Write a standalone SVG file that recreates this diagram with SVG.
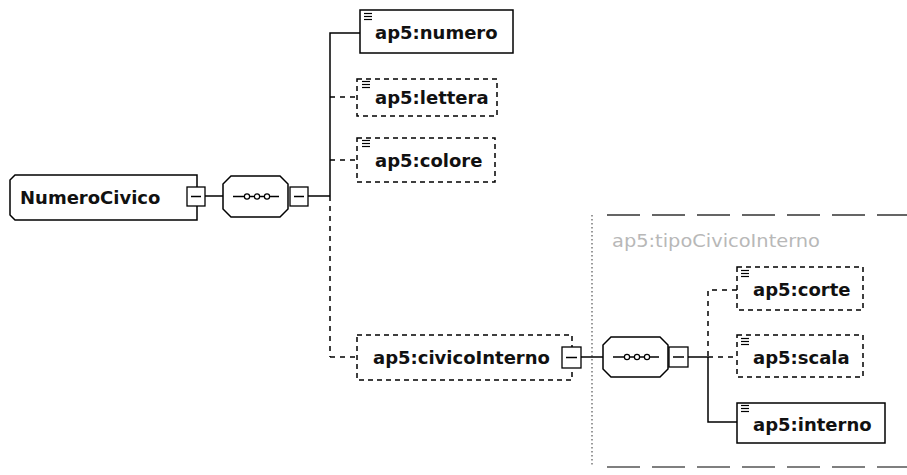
<svg xmlns="http://www.w3.org/2000/svg" width="907" height="475" viewBox="0 0 907 475">
<defs>
<style>
.bx{fill:#fff;stroke:#000;stroke-width:1.5}
.opt{fill:#fff;stroke:#000;stroke-width:1.5;stroke-dasharray:5,4}
.lbl{font-family:"DejaVu Sans",Verdana,sans-serif;font-weight:bold;font-size:18px;fill:#111}
.ln{fill:none;stroke:#000;stroke-width:1.5}
.dl{fill:none;stroke:#000;stroke-width:1.5;stroke-dasharray:5,5}
.ic{stroke:#000;stroke-width:1.2}
.mb{fill:#fff;stroke:#000;stroke-width:1.3}
.dot{fill:#fff;stroke:#000;stroke-width:1.2}
</style>
<g id="icon"><line class="ic" x1="0" y1="0.5" x2="8" y2="0.5"/><line class="ic" x1="0" y1="3.5" x2="8" y2="3.5"/><line class="ic" x1="0" y1="6.5" x2="8" y2="6.5"/></g>
</defs>
<rect width="907" height="475" fill="#fff"/>

<g id="typebox">
<line x1="592" y1="215" x2="592" y2="467" stroke="#555" stroke-width="1.2" stroke-dasharray="1.5,2.5"/>
<line x1="607" y1="215" x2="907" y2="215" stroke="#333" stroke-width="1.5" stroke-dasharray="33,12"/>
<line x1="607" y1="467" x2="907" y2="467" stroke="#555" stroke-width="1.5" stroke-dasharray="33,12"/>
<text x="612" y="247" font-family="DejaVu Sans,Verdana,sans-serif" font-size="18" fill="#b8b8b8" textLength="208" lengthAdjust="spacingAndGlyphs">ap5:tipoCivicoInterno</text>
</g>

<g id="connectors">
<line class="ln" x1="205" y1="196" x2="223" y2="196"/>
<line class="ln" x1="308" y1="196" x2="330" y2="196"/>
<polyline class="ln" points="360,33 330,33 330,196"/>
<line class="dl" x1="330" y1="196" x2="330" y2="357"/>
<line class="dl" x1="330" y1="97" x2="357" y2="97"/>
<line class="dl" x1="330" y1="160" x2="357" y2="160"/>
<line class="dl" x1="330" y1="357" x2="357" y2="357"/>
<line class="ln" x1="581" y1="357" x2="603" y2="357"/>
<line class="ln" x1="688" y1="357" x2="708" y2="357"/>
<line class="dl" x1="708" y1="357" x2="737" y2="357"/>
<polyline class="dl" points="737,290 708,290 708,357"/>
<polyline class="ln" points="708,357 708,422 737,422"/>
</g>

<g id="NumeroCivico">
<path class="bx" d="M15,175 H197 V220 H15 L10,215 V180 Z"/>
<text class="lbl" x="20" y="204" fill="#222">NumeroCivico</text>
<rect class="mb" x="187" y="187" width="18" height="19"/>
<line class="ln" x1="191" y1="196.5" x2="201" y2="196.5"/>
</g>

<g id="seq1">
<path class="bx" d="M231,176 H280 L288,184 V209 L280,217 H231 L223,209 V184 Z"/>
<line class="ln" x1="233" y1="196.5" x2="279" y2="196.5"/>
<circle class="dot" cx="247" cy="196.5" r="2.6"/>
<circle class="dot" cx="257" cy="196.5" r="2.6"/>
<circle class="dot" cx="267" cy="196.5" r="2.6"/>
<rect class="mb" x="290" y="187" width="18" height="19"/>
<line class="ln" x1="294" y1="196.5" x2="304" y2="196.5"/>
</g>

<g id="numero">
<rect class="bx" x="360" y="10" width="153" height="43"/>
<use href="#icon" x="364" y="13"/>
<text class="lbl" x="375" y="39">ap5:numero</text>
</g>

<g id="lettera">
<rect class="opt" x="357" y="79" width="140" height="37"/>
<use href="#icon" x="362" y="81"/>
<text class="lbl" x="375" y="104">ap5:lettera</text>
</g>

<g id="colore">
<rect class="opt" x="357" y="138" width="138" height="44"/>
<use href="#icon" x="362" y="140"/>
<text class="lbl" x="375" y="167">ap5:colore</text>
</g>

<g id="civicoInterno">
<rect class="opt" x="357" y="335" width="215" height="45"/>
<text class="lbl" x="373" y="364">ap5:civicoInterno</text>
<rect class="mb" x="562" y="347" width="19" height="21"/>
<line class="ln" x1="566" y1="357.5" x2="577" y2="357.5"/>
</g>

<g id="seq2">
<path class="bx" d="M611,337 H660 L668,345 V369 L660,377 H611 L603,369 V345 Z"/>
<line class="ln" x1="613" y1="357" x2="659" y2="357"/>
<circle class="dot" cx="627" cy="357" r="2.6"/>
<circle class="dot" cx="637" cy="357" r="2.6"/>
<circle class="dot" cx="647" cy="357" r="2.6"/>
<rect class="mb" x="669" y="347" width="19" height="20"/>
<line class="ln" x1="673" y1="357" x2="684" y2="357"/>
</g>

<g id="corte">
<rect class="opt" x="737" y="267" width="126" height="43"/>
<use href="#icon" x="741" y="270"/>
<text class="lbl" x="753" y="296">ap5:corte</text>
</g>

<g id="scala">
<rect class="opt" x="737" y="335" width="126" height="42"/>
<use href="#icon" x="741" y="338"/>
<text class="lbl" x="753" y="364">ap5:scala</text>
</g>

<g id="interno">
<rect class="bx" x="737" y="403" width="148" height="40"/>
<use href="#icon" x="741" y="405"/>
<text class="lbl" x="753" y="431">ap5:interno</text>
</g>
</svg>
